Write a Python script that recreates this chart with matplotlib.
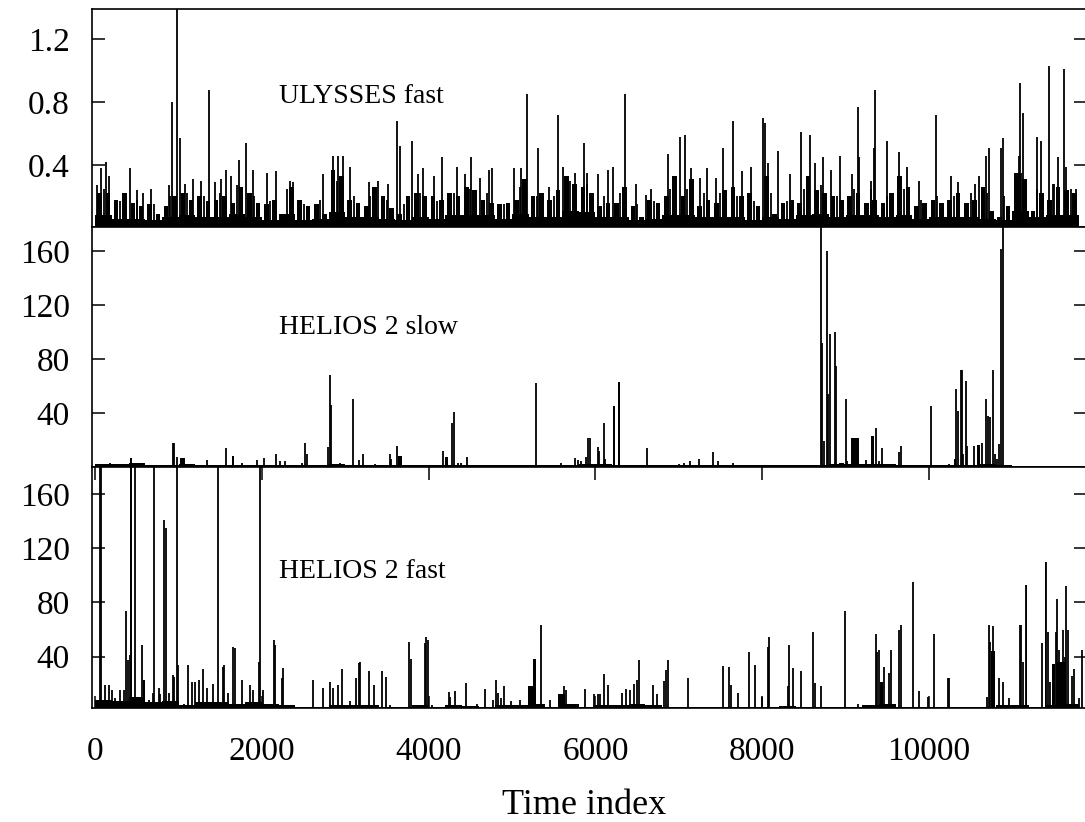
import numpy as np
import matplotlib.pyplot as plt

plt.rcParams['font.family'] = ['Liberation Serif', 'DejaVu Serif']

# bin edges for the slowly varying floor of each record (200 samples per bin)
edges = np.arange(0, 11801, 200)
# centres of 100-sample bins for the dense ULYSSES background
centres = np.arange(50, 11800, 100)

# ---- ULYSSES fast ----
uly_floor = [0.08, 0.06, 0.06, 0.05, 0.07, 0.08, 0.07, 0.07, 0.09, 0.07, 0.05, 0.09, 0.05, 0.06, 0.10, 0.07,
             0.07, 0.06, 0.05, 0.07, 0.06, 0.08, 0.08, 0.08, 0.06, 0.09, 0.07, 0.07, 0.11, 0.10, 0.07, 0.07,
             0.05, 0.06, 0.08, 0.08, 0.07,
             0.07, 0.07, 0.05, 0.07, 0.06, 0.08, 0.09, 0.07, 0.08, 0.08, 0.07, 0.08, 0.06, 0.07, 0.07, 0.07,
             0.06, 0.05, 0.11, 0.07, 0.08, 0.08]
uly_tex = [0.25, 0.17, 0.18, 0.15, 0.20, 0.22, 0.20, 0.22, 0.27, 0.20, 0.17, 0.25, 0.15, 0.18, 0.30, 0.20,
           0.20, 0.18, 0.15, 0.22, 0.17, 0.22, 0.25, 0.22, 0.15, 0.26, 0.20, 0.20, 0.30, 0.28, 0.20, 0.22,
           0.15, 0.17, 0.25, 0.25, 0.22,
           0.22, 0.20, 0.17, 0.22, 0.17, 0.25, 0.27, 0.20, 0.25, 0.25, 0.20, 0.25, 0.18, 0.20, 0.20, 0.22,
           0.22, 0.20, 0.35, 0.25, 0.28, 0.25]
uly_mass = [0.22, 0.22, 0.18, 0.22, 0.16, 0.14, 0.15, 0.09, 0.14, 0.20, 0.22, 0.18, 0.20, 0.17, 0.18, 0.20,
            0.16, 0.26, 0.22, 0.16, 0.15, 0.18, 0.09, 0.26, 0.18, 0.14, 0.15, 0.09, 0.37, 0.33, 0.18, 0.16,
            0.14, 0.26, 0.20, 0.125, 0.09, 0.20, 0.22, 0.20, 0.20, 0.18, 0.22, 0.20, 0.26, 0.24, 0.18, 0.16,
            0.15, 0.16, 0.18, 0.31, 0.20, 0.22, 0.18, 0.24, 0.33, 0.28, 0.26,
            0.22, 0.14, 0.16, 0.16, 0.26, 0.14, 0.07, 0.18, 0.16, 0.20, 0.33, 0.20, 0.31, 0.14, 0.18, 0.16,
            0.24, 0.26, 0.20, 0.22, 0.14, 0.33, 0.09, 0.16, 0.18, 0.16, 0.33, 0.24, 0.22, 0.20, 0.18, 0.20,
            0.22, 0.16, 0.18, 0.16, 0.22, 0.33, 0.26, 0.14, 0.16, 0.18, 0.16, 0.18, 0.22, 0.16, 0.18, 0.26,
            0.11, 0.07, 0.14, 0.35, 0.31, 0.11, 0.22, 0.18, 0.26, 0.24, 0.22]
uly_x = [24, 72, 130, 160, 420, 500, 570, 670, 885, 920, 978, 1010, 1078, 1175, 1270, 1362, 1437, 1508,
         1569, 1628, 1724, 1805, 1892, 2056, 2168, 2330, 2375, 2727, 2852, 2906, 2971, 3054, 3285, 3390,
         3509, 3617, 3661, 3800, 3876, 3932, 4060, 4156, 4339, 4431, 4503, 4611, 4719, 4763, 5018, 5110,
         5182, 5314, 5437, 5549, 5609, 5749, 5857, 5901, 6028, 6148, 6216, 6356, 6488, 6607, 6667, 6871,
         6938, 7014, 7070, 7146, 7254, 7333, 7445, 7533, 7645, 7757, 7865, 8009, 8028, 8068, 8192, 8336,
         8467, 8579, 8635, 8734, 8822, 8930, 9074, 9150, 9162, 9302, 9338, 9350, 9494, 9641, 9741, 9880,
         10088, 10268, 10352, 10552, 10607, 10687, 10723, 10871, 10890, 11078, 11090, 11126, 11297, 11350,
         11441, 11489, 11553, 11625, 11641, 11764]
uly_h = [0.27, 0.38, 0.42, 0.33, 0.38, 0.24, 0.22, 0.25, 0.27, 0.80, 1.6, 0.57, 0.28, 0.31, 0.30, 0.88, 0.29, 0.31,
         0.37, 0.33, 0.43, 0.54, 0.37, 0.35, 0.36, 0.30, 0.29, 0.34, 0.46, 0.46, 0.46, 0.39, 0.29, 0.30,
         0.28, 0.68, 0.52, 0.555, 0.34, 0.38, 0.33, 0.45, 0.39, 0.34, 0.45, 0.32, 0.37, 0.38, 0.38, 0.38,
         0.85, 0.51, 0.26, 0.715, 0.39, 0.35, 0.54, 0.35, 0.34, 0.37, 0.39, 0.85, 0.28, 0.21, 0.25, 0.47,
         0.32, 0.58, 0.59, 0.38, 0.32, 0.38, 0.32, 0.51, 0.68, 0.36, 0.39, 0.70, 0.67, 0.41, 0.49, 0.34,
         0.61, 0.59, 0.41, 0.45, 0.37, 0.46, 0.34, 0.77, 0.45, 0.30, 0.51, 0.88, 0.55, 0.48, 0.39, 0.30,
         0.715, 0.33, 0.29, 0.28, 0.33, 0.46, 0.51, 0.51, 0.57, 0.46, 0.92, 0.73, 0.58, 0.55,
         1.03, 0.28, 0.45, 1.01, 0.39, 0.25]

# ---- HELIOS 2 slow ----
slow_floor = [2, 2, 2.5, 1.5, 1.5, 2, 1.5, 1.5, 1.5, 1.5, 1.5, 1.5, 1.5, 1.5, 2, 1.5,
              1.5, 1.5, 1.5, 1.5, 1.5, 1.5, 1.2, 1.2, 1.2, 1.2, 1.2, 1.2, 1.5, 2, 2, 1.5, 1.2, 1.2, 1.5, 1.5, 1.5,
              1.2, 1.2, 1.2, 1.2, 1.2, 1.2, 1.5, 2, 2, 2, 2, 1.5, 1.2, 1.2, 1.2, 1.5, 2, 1, 0.3, 0.3, 0.3, 0.3]
slow_x = [30, 180, 240, 790, 930, 942, 978, 1186, 1345, 1565, 1755, 1937, 2024, 2168, 2216, 2275, 2475,
          2515, 2535, 2795, 2815, 2827, 2934, 3086, 3166, 3213, 3353, 3533, 3553, 3617, 4172, 4284, 4303,
          4350, 4390, 4463, 5249, 5289, 5349, 5457, 5589, 5749, 5790, 5830, 5889, 5913, 5929, 5988, 6028,
          6048, 6100, 6116, 6615, 7000, 7060, 7130, 7245, 7405, 7465, 7645, 7944, 8092, 8415, 8710, 8722,
          8742, 8774, 8794, 8814, 8874, 8882, 9002, 9022, 9250, 9370, 9402, 9442, 9641, 9665, 10028, 10100,
          10240, 10328, 10352, 10380, 10400, 10412, 10440, 10460, 10540, 10640, 10687, 10707, 10739, 10767,
          10791, 10819, 10839, 10871, 10890]
slow_h = [2, 2.5, 1.5, 1.5, 17.5, 17.5, 7, 1.5, 5, 14, 2.5, 5, 6.3, 9.5, 4.5, 4.5, 2.5,
          17.5, 9.5, 14.5, 67.8, 46, 2.5, 50.5, 5, 9.5, 2, 9.5, 6, 15.3, 12, 32.6, 40.5,
          2.5, 2.5, 7, 1.5, 62.4, 1.5, 1.5, 2.5, 6.3, 5, 4, 7, 21.5, 21.5, 2, 14.5,
          12, 32.6, 6, 14, 2, 3, 4, 6, 10.8, 4.5, 2.5, 1.5, 1.5, 1.5, 200, 91.8,
          19, 160, 54, 98.3, 99.8, 74.7, 50.5, 4.5, 5, 29, 4.5, 13.5, 10.8, 15.3, 45, 1.5,
          2, 57.9, 41, 71.5, 72, 9.5, 63.3, 15.3, 15.3, 17.8, 50, 37.3, 36.5, 71.5,
          9.5, 6, 16.5, 161.5, 200]
slow_blk_start = [420, 1018, 1640, 3630, 4190, 6208, 6268, 8922, 9062, 9310, 10300, 10572]
slow_blk_end = [445, 1078, 1660, 3680, 4230, 6230, 6290, 8982, 9162, 9345, 10330, 10610]
slow_blk_h = [6.3, 6.5, 8, 8, 7, 45, 63, 3, 21, 23, 6, 16]

# ---- HELIOS 2 fast ----
fast_floor = [8, 7, 10, 6, 7, 4, 6, 6, 5, 6, 5, 4, 2.5, 3, 4, 4,
              4, 3, 3, 4, 2.5, 4, 3.5, 3, 4, 4, 5, 2.5, 5, 3, 4, 4, 5, 4, 3, 3, 2.5,
              3, 3, 3, 3, 3.5, 3, 3, 2.5, 3, 4, 5, 3, 3, 3, 3, 2.5, 3, 4, 4, 3, 4, 5]
fast_x = [8, 60, 72, 120, 160, 200, 240, 300, 347, 371, 391, 411, 480, 559, 585, 638, 691, 700, 758, 778,
          826, 846, 878, 926, 946, 978, 997, 1060, 1110, 1158, 1190, 1246, 1290, 1338, 1417, 1477, 1529,
          1545, 1597, 1657, 1677, 1757, 1856, 1896, 1964, 1976, 2016, 2144, 2156, 2236, 2248, 2450, 2611,
          2735, 2815, 2855, 2915, 2962, 3050, 3126, 3166, 3174, 3285, 3341, 3445, 3485, 3533, 3764, 3784,
          3872, 3952, 3972, 3992, 4044, 4132, 4243, 4260, 4320, 4451, 4580, 4671, 4770, 4811, 4831, 4871,
          4902, 4990, 5090, 5349, 5460, 5580, 5617, 5650, 5880, 5988, 6028, 6060, 6100, 6148, 6320, 6367,
          6420, 6460, 6499, 6519, 6687, 6739, 6820, 6850, 6866, 7106, 7533, 7605, 7625, 7705, 7844, 7916,
          7992, 8064, 8084, 8304, 8324, 8372, 8467, 8615, 8635, 8703, 8994, 9150, 9362, 9382, 9402, 9462,
          9522, 9550, 9641, 9661, 9813, 9880, 9992, 10064, 10232, 10240, 10700, 10727, 10739, 10767, 10783,
          10839, 10890, 10959, 11090, 11110, 11130, 11168, 11357, 11400, 11429, 11449, 11525, 11537, 11557,
          11577, 11609, 11637, 11649, 11669, 11717, 11737, 11805, 11836]
fast_h = [4, 200, 200, 19, 19, 15, 9, 15, 15, 73.9, 37.5, 41, 200, 48.7, 22.7, 8, 13, 200, 16.5, 12,
          141, 135, 13, 26.4, 25, 200, 33.8, 5, 33.8, 21, 21, 22.7, 30.6, 16.5, 20, 200, 32.6,
          33.8, 13, 47.4, 46, 22.7, 19, 15, 36.2, 200, 15, 52.4, 48.7, 24, 31.6, 3, 22.7,
          16.8, 21, 16.5, 19, 30.6, 7, 24, 35, 36.2, 29.6, 18.7, 29.6, 25, 4, 51.1, 38.3,
          4, 50, 54.4, 52, 4, 3, 13.6, 10, 14.8, 20.3, 5, 16, 8, 22.7, 13.3, 9,
          18, 7, 8, 63.5, 8, 12, 18, 15, 16, 12, 12, 12, 27, 19, 13, 16,
          15, 20, 22.7, 37.5, 19, 12, 22, 30, 37.5, 24, 33, 32, 19, 13.3, 43.3, 33.8,
          10, 47.4, 54.4, 18, 48.7, 31.6, 29.6, 57.8, 20.3, 18, 73.9, 5, 56.8, 43.7, 44.5, 32.6,
          28, 44.5, 59.8, 63.5, 95.2, 14.8, 10, 56.8, 24, 24, 10, 63.5, 51.1, 62.4, 44,
          24, 21, 9, 63.5, 63.5, 36.2, 93.2, 50, 110, 57.8, 21, 57.8, 82.8, 45,
          35.5, 59.8, 40, 92, 59.8, 25.7, 30.6, 9, 45]
fast_blk_start = [410, 571, 5190, 5250, 5549, 9410, 10745, 11160, 11390, 11477, 11540, 11590]
fast_blk_end = [445, 599, 5250, 5290, 5640, 9450, 10790, 11180, 11410, 11509, 11580, 11640]
fast_blk_h = [200, 22.7, 18, 38, 12, 21, 44, 93, 110, 34.6, 36, 36]

W, H = 1085, 822
fig = plt.figure(figsize=(W / 100, H / 100), dpi=100)


def panel(y0, y1):
    return fig.add_axes([92 / W, 1 - y1 / H, (1086 - 92) / W, (y1 - y0) / H])


ax1 = panel(9.3, 226.7)
ax2 = panel(226.7, 466.7)
ax3 = panel(466.7, 708.3)

lw = 1.3
# top
ax1.stairs(uly_floor, edges, fill=True, color='black', lw=0)
ax1.bar(centres, uly_mass, width=55, color='black', lw=0)
ax1.vlines(edges[:-1] + 100, 0, uly_tex, color='black', lw=lw)
ax1.vlines(uly_x, 0, uly_h, color='black', lw=lw)
ax1.set_ylim(0.008, 1.39)
ax1.set_yticks([0.4, 0.8, 1.2])
ax1.set_yticklabels(['0.4', '0.8', '1.2'])
ax1.text(0.188, 0.601, 'ULYSSES fast', transform=ax1.transAxes, fontsize=20, va='center')

# middle
ax2.stairs(slow_floor, edges, fill=True, color='black', lw=0)
ax2.vlines(slow_x, 0, slow_h, color='black', lw=lw)
ax2.bar(slow_blk_start, slow_blk_h, width=np.subtract(slow_blk_end, slow_blk_start),
        align='edge', color='black', lw=0)
ax2.set_ylim(0, 178)
ax2.set_yticks([40, 80, 120, 160])
ax2.text(0.188, 0.579, 'HELIOS 2 slow', transform=ax2.transAxes, fontsize=20, va='center')

# bottom
ax3.stairs(fast_floor, edges, fill=True, color='black', lw=0)
ax3.vlines(fast_x, 0, fast_h, color='black', lw=lw)
ax3.bar(fast_blk_start, fast_blk_h, width=np.subtract(fast_blk_end, fast_blk_start),
        align='edge', color='black', lw=0)
ax3.set_ylim(1.7, 180.5)
ax3.set_yticks([40, 80, 120, 160])
ax3.set_xticks([0, 2000, 4000, 6000, 8000, 10000])
ax3.text(0.188, 0.568, 'HELIOS 2 fast', transform=ax3.transAxes, fontsize=20, va='center')

for ax in (ax1, ax2, ax3):
    ax.set_xlim(-40, 11885)
    for s in ax.spines.values():
        s.set_linewidth(1.2)
    ax.tick_params(axis='y', direction='in', left=True, right=True, length=9, width=1.1,
                   labelsize=24, pad=16)
    ax.tick_params(axis='x', bottom=False, top=False, labelbottom=False)

ax3.tick_params(axis='x', direction='in', bottom=True, top=True, labelbottom=True,
                length=9, width=1.1, labelsize=24, pad=20)

fig.text(584 / W, 1 - 805 / H, 'Time index', ha='center', va='center', fontsize=26)

fig.savefig('out.png', dpi=100)
